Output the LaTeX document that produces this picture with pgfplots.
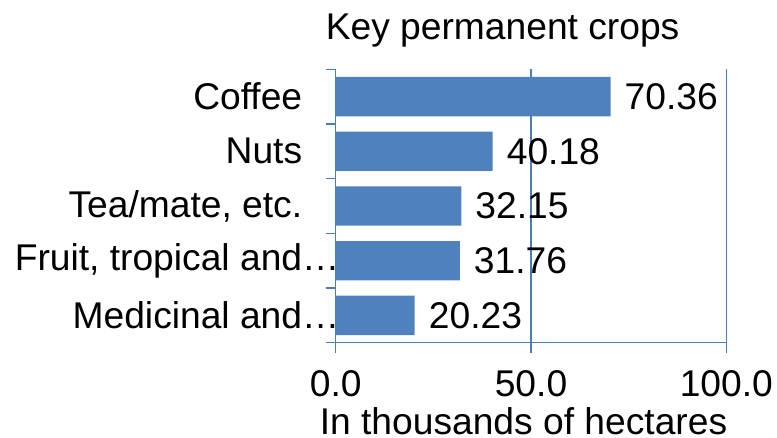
\documentclass[border=0pt]{standalone}
\usepackage{pgfplots}
\pgfplotsset{compat=1.18}
\usepackage{fontspec}
\setmainfont{Liberation Sans}
\definecolor{barblue}{HTML}{4F81BD}
\definecolor{axblue}{HTML}{4A7EBB}
\begin{document}
\begin{tikzpicture}[font=\fontsize{37.2bp}{44bp}\selectfont]
\useasboundingbox (0,0) rectangle (777bp,438bp);
\begin{axis}[
  at={(335.7bp,95.3bp)}, anchor=south west,
  scale only axis, width=390.6bp, height=273.4bp,
  xmin=0, xmax=100, ymin=0.5, ymax=5.5,
  axis x line=bottom, axis y line=left,
  axis line style={axblue, line width=1.5bp, -},
  xtick={0,50,100}, xticklabels={0.0,50.0,100.0},
  ytick={1,2,3,4,5},
  yticklabels={{Medicinal and\rlap{…}\hspace{-6bp}},{Fruit, tropical and\rlap{…}\hspace{-6bp}},{Tea/mate, etc.},{Nuts},{Coffee}},
  minor ytick={0.5,1.5,2.5,3.5,4.5,5.5},
  tick align=outside, major tick length=10bp, minor tick length=10bp,
  tick style={axblue, line width=1.5bp},
  every minor tick/.append style={axblue, line width=1.5bp},
  major y tick style={draw=none},
  xmajorgrids, major grid style={axblue, line width=1.5bp},
  tick label style={font=\fontsize{37.2bp}{44bp}\selectfont},
  yticklabel style={xshift=-20bp},
  xticklabel style={yshift=-14bp},
  xbar, bar width=39.3bp,
  point meta=x,
  nodes near coords={\pgfmathprintnumber[fixed,fixed zerofill,precision=2,assume math mode=true]{\pgfplotspointmeta}},
  nodes near coords style={anchor=west, inner sep=0pt, xshift=14bp, font=\fontsize{37.2bp}{44bp}\selectfont, black},
  clip=false,
]
\addplot[fill=barblue, draw=none] coordinates {(20.23,1) (31.76,2) (32.15,3) (40.18,4) (70.36,5)};
\end{axis}
\node[anchor=base, inner sep=0pt] at (502.6bp,398bp) {Key permanent crops};
\node[anchor=base, inner sep=0pt] at (523.5bp,3.5bp) {In thousands of hectares};
\end{tikzpicture}
\end{document}
